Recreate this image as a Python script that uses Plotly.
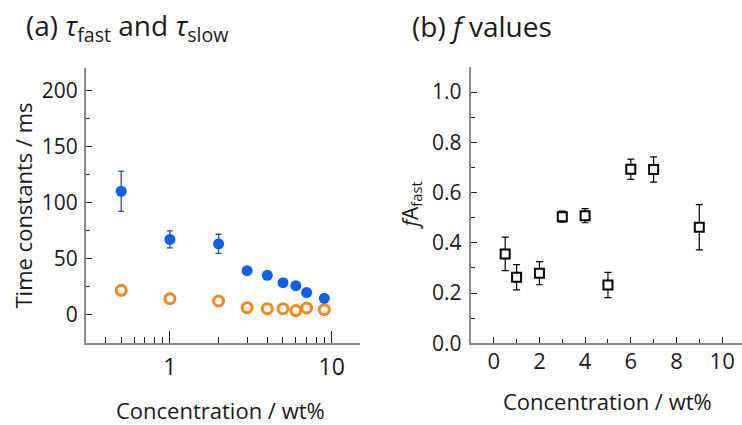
import plotly.graph_objects as go
import math

# ---------------- data ----------------
conc = [0.5, 1, 2, 3, 4, 5, 6, 7, 9]
tau_fast = [110.2, 67.3, 63.4, 39.4, 35.3, 28.7, 26.1, 19.9, 14.8]
tau_fast_err = [18.0, 7.6, 8.5, 1.5, 1.5, 1.5, 1.5, 1.5, 1.5]
tau_slow = [21.9, 14.5, 12.4, 6.5, 5.6, 5.6, 3.9, 6.2, 4.7]
tau_slow_err = [1.5, 1.2, 1.2, 1.2, 1.2, 1.2, 1.2, 1.2, 1.2]
fA_fast = [0.356, 0.263, 0.279, 0.504, 0.508, 0.232, 0.693, 0.692, 0.462]
fA_fast_err = [0.067, 0.05, 0.046, 0.022, 0.028, 0.05, 0.04, 0.05, 0.09]

left_yticks = [0, 50, 100, 150, 200]
left_xticks = [1, 10]
left_xminor = [0.4, 0.5, 0.6, 0.7, 0.8, 0.9, 2, 3, 4, 5, 6, 7, 8, 9]
right_xticks = [0, 2, 4, 6, 8, 10]
right_yticks = [0.0, 0.2, 0.4, 0.6, 0.8, 1.0]

W, H = 742, 425
FONT = "Open Sans"
BLUE = "#0a60f2"
BLUE_ERR = "#2b4f96"
ORANGE = "#ef8a22"
AXIS = "#8a8a8a"

fig = go.Figure()

fig.add_trace(go.Scatter(
    x=conc, y=tau_slow, mode="markers", xaxis="x", yaxis="y",
    marker=dict(symbol="circle", size=10, color="#fff4e8",
                line=dict(color=ORANGE, width=3)),
    error_y=dict(type="data", array=tau_slow_err, color="#fbe3c8",
                 thickness=1, width=2),
    showlegend=False))
fig.add_trace(go.Scatter(
    x=conc, y=tau_fast, mode="markers", xaxis="x", yaxis="y",
    marker=dict(symbol="circle", size=11, color=BLUE,
                line=dict(color=BLUE, width=0)),
    error_y=dict(type="data", array=tau_fast_err, color=BLUE_ERR,
                 thickness=1.3, width=3),
    showlegend=False))
fig.add_trace(go.Scatter(
    x=conc, y=fA_fast, mode="markers", xaxis="x2", yaxis="y2",
    marker=dict(symbol="square", size=9, color="white",
                line=dict(color="black", width=2)),
    error_y=dict(type="data", array=fA_fast_err, color="black",
                 thickness=1.2, width=3.5),
    showlegend=False))

def px_x(p):
    return p / W

def px_y(p):
    return 1 - p / H

common = dict(showgrid=False, zeroline=False, showline=True, automargin=False,
              linecolor=AXIS, linewidth=2, ticks="inside",
              tickcolor="#222222", tickwidth=1.2)

fig.update_layout(
    width=W, height=H, autosize=False,
    margin=dict(l=0, r=0, t=0, b=0, autoexpand=False),
    paper_bgcolor="white", plot_bgcolor="white",
    font=dict(family=FONT, color="#1a1a1a"),
    xaxis=dict(domain=[px_x(86), px_x(360)], anchor="y", type="log",
               range=[math.log10(0.303), math.log10(14.96)],
               tickmode="array", tickvals=left_xticks,
               ticktext=[str(v) for v in left_xticks],
               ticklen=12, tickfont=dict(size=23), ticklabelstandoff=2,
               minor=dict(ticks="inside", ticklen=6, tickvals=left_xminor,
                          tickcolor="#222222", tickwidth=1.2),
               **common),
    yaxis=dict(domain=[px_y(343), px_y(68)], anchor="x",
               range=[-25, 220], tickmode="array", tickvals=left_yticks,
               ticklen=6, tickfont=dict(size=21), ticklabelstandoff=2,
               minor=dict(ticks="inside", ticklen=4, dtick=25,
                          tickcolor="#222222", tickwidth=1.2),
               **common),
    xaxis2=dict(domain=[px_x(470.7), 1.0], anchor="y2",
                range=[-1.01, 10.87], tickmode="array", tickvals=right_xticks,
                ticklen=6, tickfont=dict(size=22), ticklabelstandoff=-3,
                minor=dict(ticks="inside", ticklen=4, dtick=1,
                           tickcolor="#222222", tickwidth=1.2),
                **common),
    yaxis2=dict(domain=[px_y(343.3), px_y(67)], anchor="x2",
                range=[0, 1.1], tickmode="array", tickvals=right_yticks,
                ticktext=["%.1f" % v for v in right_yticks],
                ticklen=6, tickfont=dict(size=21), ticklabelstandoff=3,
                minor=dict(ticks="inside", ticklen=4, dtick=0.1,
                           tickcolor="#222222", tickwidth=1.2),
                **common),
)

ann = [
    dict(text="(a) <i>τ</i><sub>fast</sub> and <i>τ</i><sub>slow</sub>", x=px_x(24), y=px_y(27.5),
         xanchor="left", yanchor="middle", font=dict(size=28)),
    dict(text="(b) <i>f</i> values", x=px_x(410), y=px_y(25.5),
         xanchor="left", yanchor="middle", font=dict(size=28)),
    dict(text="Time constants / ms", x=px_x(22), y=px_y(205.5), textangle=-90,
         xanchor="center", yanchor="middle", font=dict(size=22)),
    dict(text="<i>f</i>A<sub>fast</sub>", x=px_x(410.5), y=px_y(206), textangle=-90,
         xanchor="center", yanchor="middle", font=dict(size=21)),
    dict(text="Concentration / wt%", x=px_x(221), y=px_y(410),
         xanchor="center", yanchor="middle", font=dict(size=22)),
    dict(text="Concentration / wt%", x=px_x(607), y=px_y(401),
         xanchor="center", yanchor="middle", font=dict(size=22)),
]
for a in ann:
    a.update(xref="paper", yref="paper", showarrow=False)
fig.update_layout(annotations=ann)

post = """
document.documentElement.style.margin='0px';
document.body.style.margin='0px';
document.body.style.padding='0px';
"""
fig.write_html("out.html", config={"displayModeBar": False, "responsive": False},
               post_script=post)
